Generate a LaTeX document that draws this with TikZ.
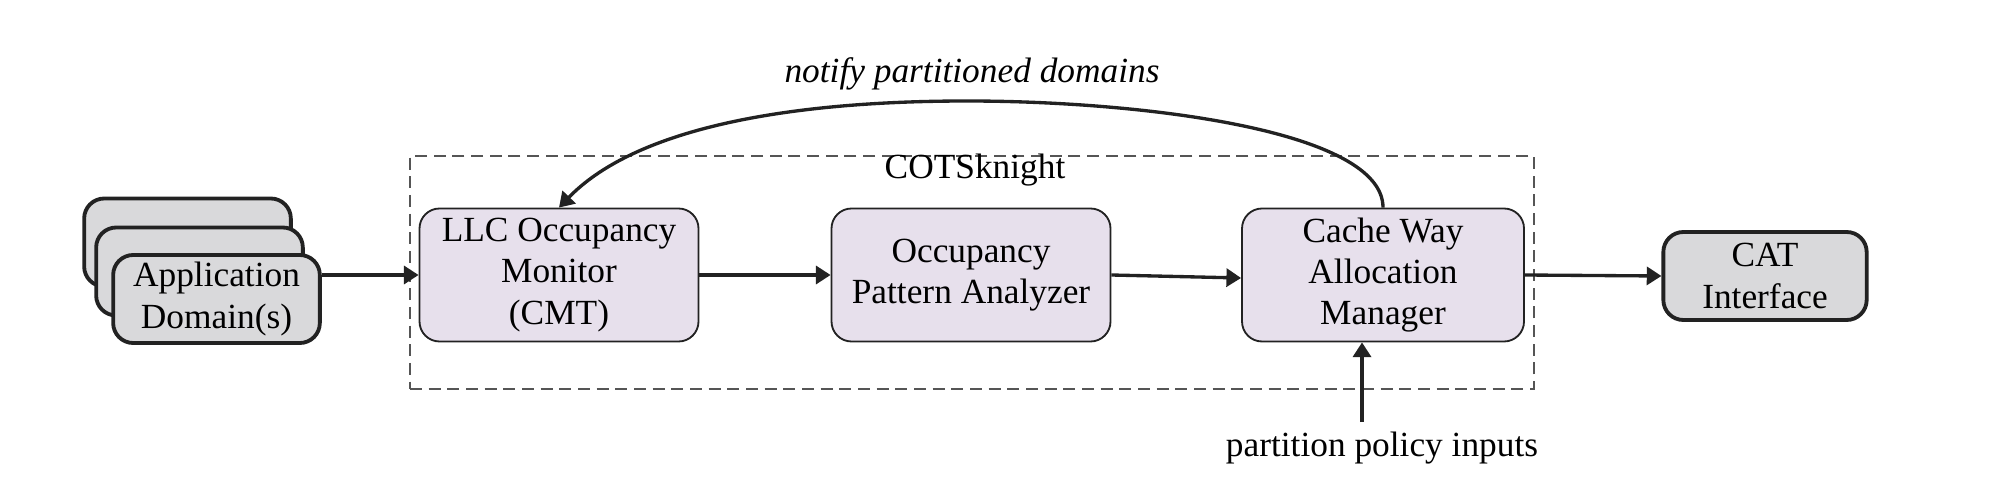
\documentclass[tikz,border=0pt]{standalone}
\usepackage{fontspec}
\setmainfont{Liberation Serif}
\usetikzlibrary{arrows.meta}
\definecolor{boxpurple}{HTML}{E7E0EC}
\definecolor{boxgray}{HTML}{D9D9DB}
\definecolor{ink}{HTML}{222222}
\definecolor{framegray}{HTML}{555555}
\begin{document}
\begin{tikzpicture}[x=0.3pt,y=-0.3pt,
  font=\fontsize{10.6}{12.4}\selectfont,
  procbox/.style={draw=ink, line width=0.55pt, fill=boxpurple, rounded corners=6pt,
    minimum width=83.7pt, minimum height=39.9pt, align=center, inner sep=0pt},
  extbox/.style={draw=ink, line width=1.15pt, fill=boxgray, rounded corners=6pt,
    minimum width=62pt, minimum height=26.4pt, align=center, inner sep=0pt},
  framebox/.style={draw=framegray, line width=0.5pt, dash pattern=on 3.6pt off 2pt,
    minimum width=337.2pt, minimum height=69.9pt, inner sep=0pt},
  flow/.style={-{Triangle[length=4.4pt,width=5.4pt]}, line width=1pt, draw=ink},
  lbl/.style={inner sep=0pt}]

\useasboundingbox (0,0) rectangle (1992,490);

% COTSknight frame
\node[framebox] (frame) at (972,272.5) {};
\node[lbl] (cotslabel) at (975,170) {COTSknight};

% application domain stack
\node[extbox] (appback) at (187.5,242.5) {};
\node[extbox] (appmid) at (199.5,271.5) {};
\node[extbox] (app) at (216.5,299) {Application\\Domain(s)};

% processing boxes
\node[procbox] (llc) at (559,275) {LLC Occupancy\\Monitor\\(CMT)};
\node[procbox] (opa) at (971,275) {Occupancy\\Pattern Analyzer};
\node[procbox, minimum width=84.6pt] (cwam) at (1383,275) {Cache Way\\Allocation\\Manager};
\node[extbox, minimum width=61pt] (cat) at (1765,276) {CAT\\Interface};

% labels
\node[lbl, font=\fontsize{10.6}{12.4}\selectfont\itshape] (notify) at (972,74) {notify partitioned domains};
\node[lbl] (policy) at (1382,448) {partition policy inputs};
\coordinate (polsrc) at (1362,422);

% connectors
\draw[flow] (app.east |- llc.west) -- (llc.west);
\draw[flow] (llc.east) -- (opa.west);
\draw[flow] (opa.east) -- ([yshift=-0.9pt]cwam.west);
\draw[flow] (cwam.east) -- (cat.west);
\draw[flow] (polsrc) -- (polsrc |- cwam.south);
\draw[flow] (cwam.north) .. controls (1383,130) and (1140,101) .. (967,101)
  .. controls (775,101) and (632,132) .. (llc.north);
\end{tikzpicture}
\end{document}
